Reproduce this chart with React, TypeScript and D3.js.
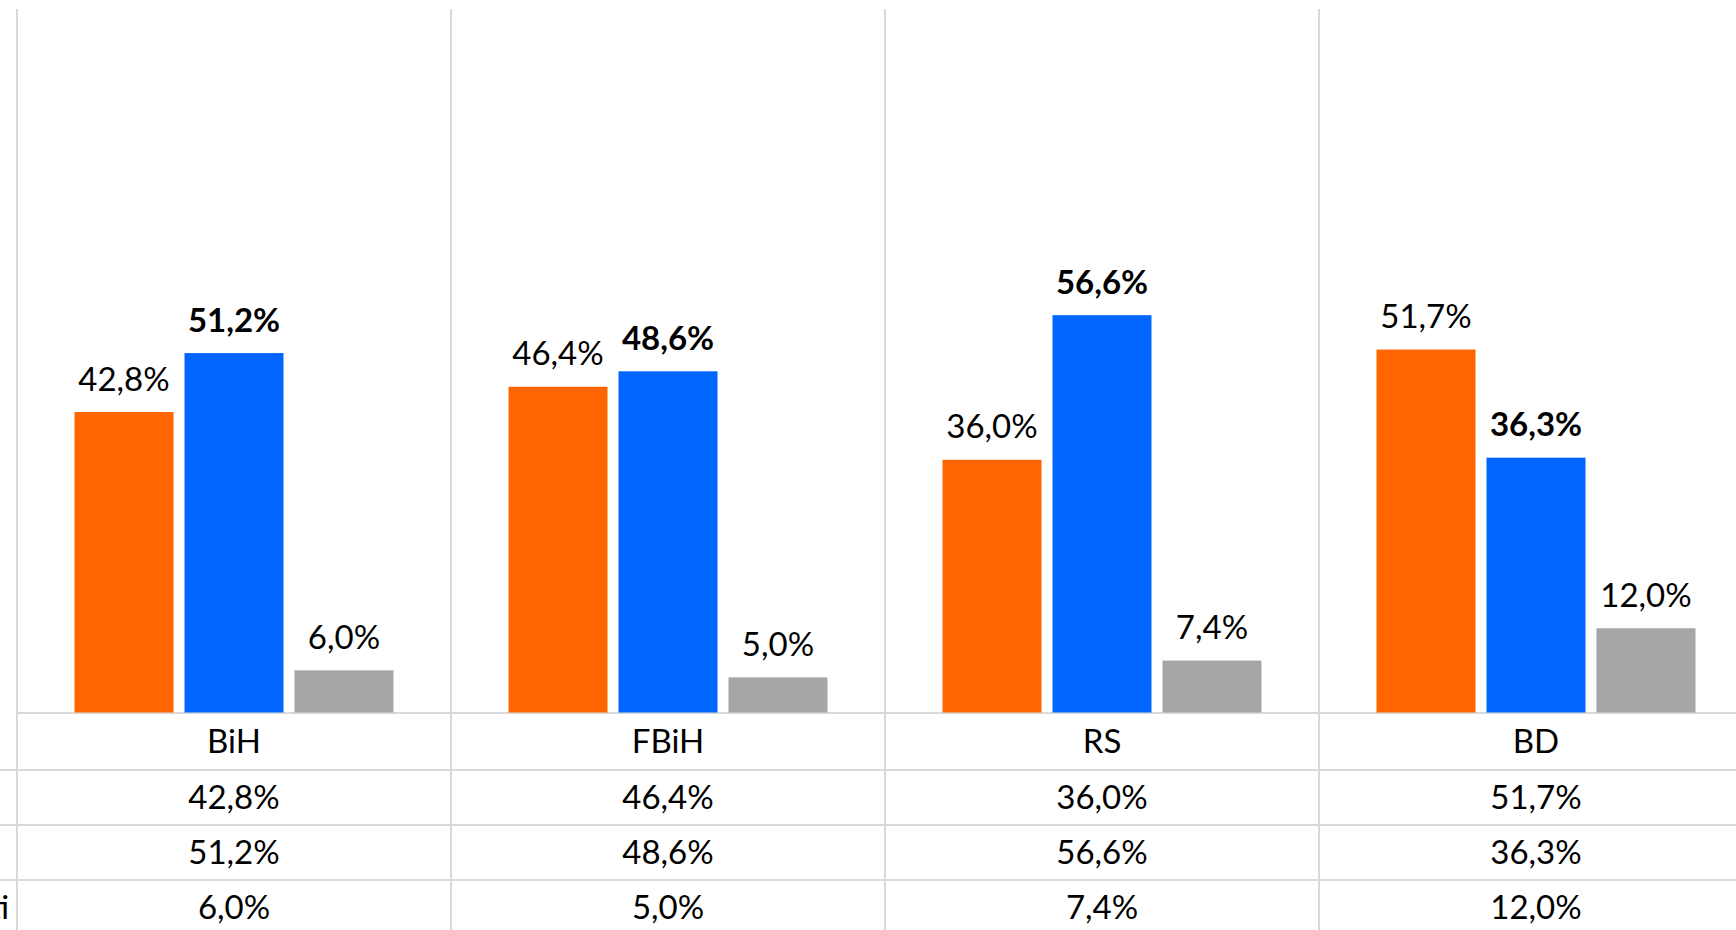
import React, { useRef, useEffect } from 'react';
import * as d3 from 'd3';

const categories = ['BiH', 'FBiH', 'RS', 'BD'];
const seriesNames = ['Da', 'Ne', 'Ne znam / ne mogu procijeniti'];
const seriesA = [42.8, 46.4, 36.0, 51.7];
const seriesB = [51.2, 48.6, 56.6, 36.3];
const seriesC = [6.0, 5.0, 7.4, 12.0];
const colors = ['#FF6600', '#0066FF', '#A6A6A6'];
const boldSeries = [false, true, false];
// only the long third name reaches into the visible area
const nameVisible = [false, false, true];

const fmt = (v: number) => v.toFixed(1).replace('.', ',') + '%';

const App = () => {
  const chartRef = useRef<SVGSVGElement>(null);

  useEffect(() => {
    const W = 1736;
    const H = 930;
    const svg = d3.select(chartRef.current).attr('width', W).attr('height', H);
    svg.selectAll('*').remove();

    const font = 'Lato, "Liberation Sans", sans-serif';
    const fontSize = 33;
    const grid = '#D9D9D9';
    const plotTop = 9;
    const baseY = 712.5;
    const left = 17;
    const catW = 434;

    const values = [seriesA, seriesB, seriesC];

    const x = d3.scaleBand()
      .domain(categories)
      .range([left, left + catW * categories.length])
      .padding(0);

    const xInner = d3.scaleBand()
      .domain(seriesNames)
      .range([0, x.bandwidth()])
      .paddingInner(0.1)
      .paddingOuter(0.523);

    const y = d3.scaleLinear().domain([0, 100]).range([baseY, baseY - 702]);

    // table rows (category row + one row per series)
    const rowLines = [713, 770, 825, 880, 935];

    // vertical grid lines
    svg.append('g')
      .selectAll('line')
      .data(d3.range(categories.length + 1))
      .enter()
      .append('line')
      .attr('x1', i => left + i * catW)
      .attr('x2', i => left + i * catW)
      .attr('y1', plotTop)
      .attr('y2', H)
      .attr('stroke', grid)
      .attr('stroke-width', 2);

    // horizontal table lines
    svg.append('g')
      .selectAll('line')
      .data(rowLines)
      .enter()
      .append('line')
      .attr('x1', (d, i) => (i === 0 ? left : 0))
      .attr('x2', W)
      .attr('y1', d => d)
      .attr('y2', d => d)
      .attr('stroke', grid)
      .attr('stroke-width', 2);

    // bars + labels
    values.forEach((vals, s) => {
      const g = svg.append('g');
      g.selectAll('rect')
        .data(vals)
        .enter()
        .append('rect')
        .attr('x', (d, i) => x(categories[i])! + xInner(seriesNames[s])!)
        .attr('y', d => y(d))
        .attr('width', xInner.bandwidth())
        .attr('height', d => baseY - y(d))
        .attr('fill', colors[s]);

      g.selectAll('text')
        .data(vals)
        .enter()
        .append('text')
        .attr('x', (d, i) => x(categories[i])! + xInner(seriesNames[s])! + xInner.bandwidth() / 2)
        .attr('y', d => y(d) - 21.5)
        .attr('text-anchor', 'middle')
        .attr('font-family', font)
        .attr('font-size', fontSize)
        .attr('font-weight', boldSeries[s] ? 700 : 400)
        .attr('fill', '#000')
        .text(d => fmt(d));
    });

    // data table: category labels
    const rowMid = (r: number) => (rowLines[r] + rowLines[r + 1]) / 2 + 11;
    svg.append('g')
      .selectAll('text')
      .data(categories)
      .enter()
      .append('text')
      .attr('x', d => x(d)! + x.bandwidth() / 2)
      .attr('y', rowMid(0))
      .attr('text-anchor', 'middle')
      .attr('font-family', font)
      .attr('font-size', fontSize)
      .text(d => d);

    values.forEach((vals, s) => {
      const g = svg.append('g');
      g.selectAll('text')
        .data(vals)
        .enter()
        .append('text')
        .attr('x', (d, i) => x(categories[i])! + x.bandwidth() / 2)
        .attr('y', rowMid(s + 1))
        .attr('text-anchor', 'middle')
        .attr('font-family', font)
        .attr('font-size', fontSize)
        .text(d => fmt(d));

      // series name (cut off at the left edge, as in the source)
      if (nameVisible[s]) {
        g.append('text')
          .attr('x', 9)
          .attr('y', rowMid(s + 1))
          .attr('text-anchor', 'end')
          .attr('font-family', font)
          .attr('font-size', fontSize)
          .text(seriesNames[s]);
      }
    });
  }, []);

  return (
    <svg
      ref={chartRef}
      style={{ position: 'absolute', left: 0, top: 0, background: '#fff' }}
    ></svg>
  );
};

export default App;
